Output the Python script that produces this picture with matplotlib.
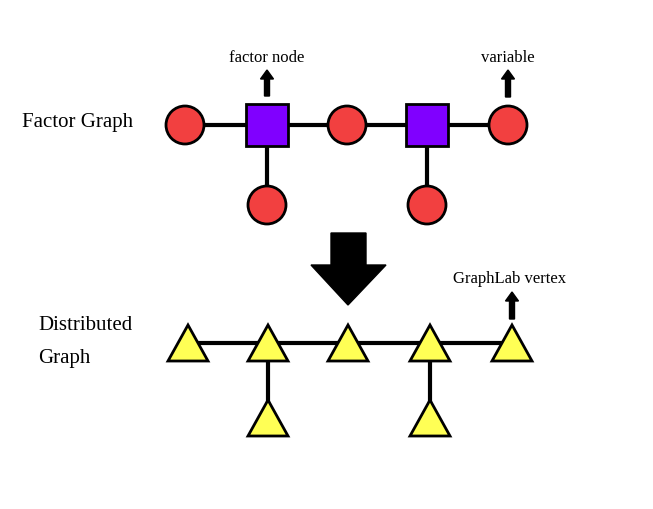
import matplotlib
matplotlib.use("Agg")
import matplotlib.pyplot as plt
from matplotlib.patches import Circle, Rectangle, Polygon, FancyArrow

W, H = 653, 509
var_x = [185, 347, 508]; var_y = 125
fac_x = [267, 427]
leaf_y = 205
tri_x = [188, 268, 348, 430, 512]; tri_y = 343
tri_leaf_x = [268, 430]; tri_leaf_y = 418
labels = ["factor node", "variable", "GraphLab vertex"]

fig = plt.figure(figsize=(W/100, H/100), dpi=100)
ax = fig.add_axes([0, 0, 1, 1])
ax.set_xlim(0, W); ax.set_ylim(H, 0); ax.axis("off")
serif = "Liberation Serif"

# factor graph edges
ax.plot([var_x[0], var_x[-1]], [var_y, var_y], color="black", lw=3, zorder=1)
for x in fac_x:
    ax.plot([x, x], [var_y, leaf_y], color="black", lw=3, zorder=1)
for x in var_x:
    ax.add_patch(Circle((x, var_y), 19, fc="#f24040", ec="black", lw=2, zorder=2))
for x in fac_x:
    ax.add_patch(Circle((x, leaf_y), 19, fc="#f24040", ec="black", lw=2, zorder=2))
    ax.add_patch(Rectangle((x-21, var_y-21), 42, 42, fc="#8000ff", ec="black", lw=2, zorder=2))

def small_arrow(x, y0, y1):
    ax.add_patch(FancyArrow(x, y0, 0, y1-y0, width=5, head_width=13, head_length=9,
                            length_includes_head=True, color="black", zorder=3))

small_arrow(267, 96, 70)
small_arrow(508, 97, 70)
ax.text(267, 58, labels[0], ha="center", va="center", fontsize=12, family=serif)
ax.text(508, 58, labels[1], ha="center", va="center", fontsize=12, family=serif)
ax.text(22, 122, "Factor Graph", ha="left", va="center", fontsize=15, family=serif)

# big arrow
ax.add_patch(Polygon([(331, 233), (366, 233), (366, 265), (386, 265), (348, 305),
                      (311, 265), (331, 265)], closed=True, fc="black", ec="black", zorder=3))

# distributed graph
ax.plot([tri_x[0], tri_x[-1]], [tri_y, tri_y], color="black", lw=3, zorder=1)
for x in tri_leaf_x:
    ax.plot([x, x], [tri_y, tri_leaf_y], color="black", lw=3, zorder=1)

def tri(x, y):
    ax.add_patch(Polygon([(x-20, y+18), (x+20, y+18), (x, y-18)], closed=True,
                         fc="#ffff55", ec="black", lw=2, zorder=2))

for x in tri_x:
    tri(x, tri_y)
for x in tri_leaf_x:
    tri(x, tri_leaf_y)

small_arrow(512, 319, 292)
ax.text(510, 279, labels[2], ha="center", va="center", fontsize=12, family=serif)
ax.text(38, 326, "Distributed", ha="left", va="center", fontsize=15, family=serif)
ax.text(38, 358, "Graph", ha="left", va="center", fontsize=15, family=serif)

fig.savefig("out.png", dpi=100, facecolor="white")
